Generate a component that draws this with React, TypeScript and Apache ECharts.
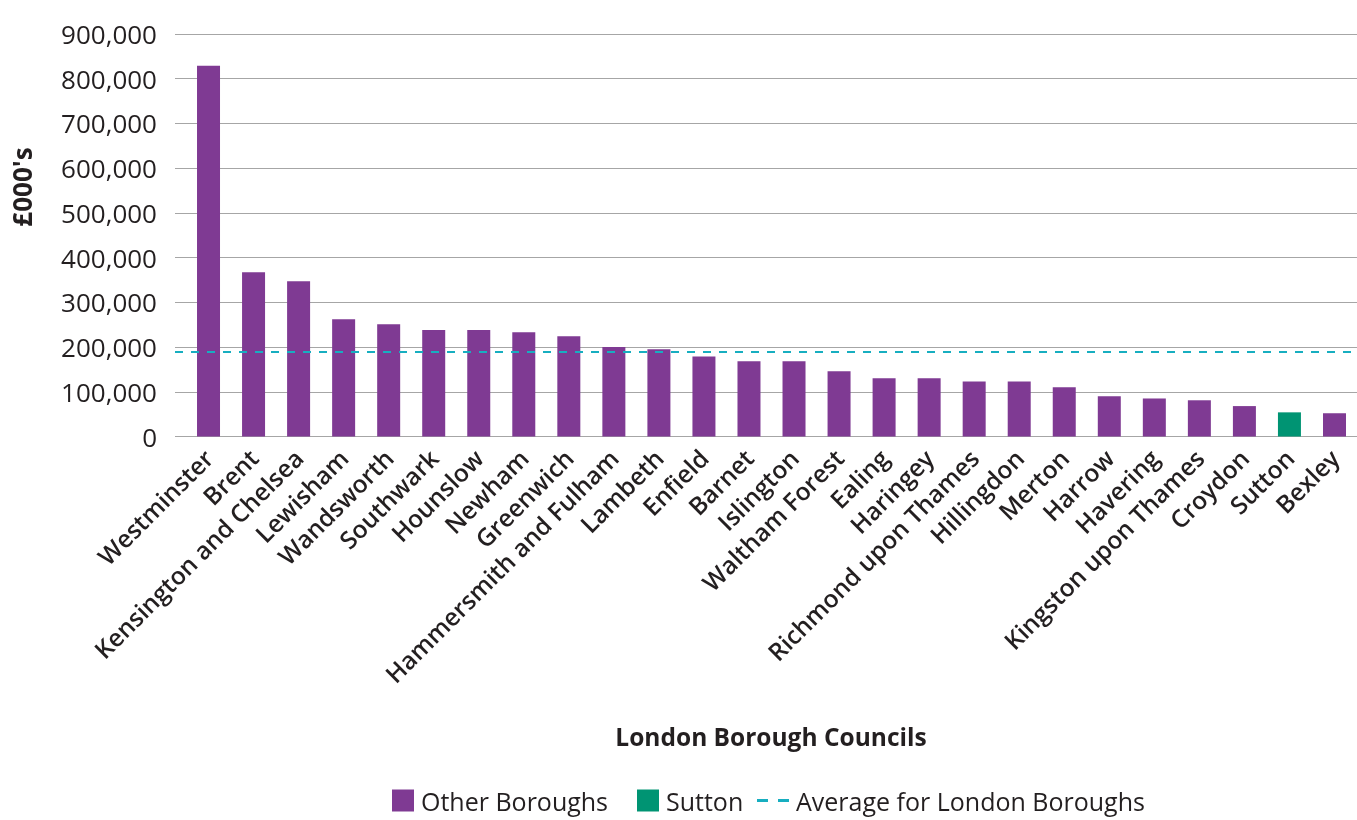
import React, { useEffect, useRef } from "react";
import * as echarts from "echarts";

const boroughs = [
  "Westminster", "Brent", "Kensington and Chelsea", "Lewisham", "Wandsworth",
  "Southwark", "Hounslow", "Newham", "Greenwich", "Hammersmith and Fulham",
  "Lambeth", "Enfield", "Barnet", "Islington", "Waltham Forest", "Ealing",
  "Haringey", "Richmond upon Thames", "Hillingdon", "Merton", "Harrow",
  "Havering", "Kingston upon Thames", "Croydon", "Sutton", "Bexley",
];
const values = [
  829000, 367000, 347000, 262000, 251000,
  238000, 238000, 233000, 224000, 200000,
  195000, 179000, 168000, 168000, 146000, 130000,
  130000, 123000, 123000, 110000, 90000,
  85000, 81000, 68000, 54000, 52000,
];
const highlight = "Sutton";
const averageValue = 189000;
const yTicks = [0, 100000, 200000, 300000, 400000, 500000, 600000, 700000, 800000, 900000];
const legendNames = ["Other Boroughs", "Sutton", "Average for London Boroughs"];

const PURPLE = "#7f3a93";
const GREEN = "#009473";
const TEAL = "#17aec0";
const TEXT = "#231f20";
const GRID = "#a6a6a6";
const FONT = "'Open Sans', Lato, sans-serif";

export default function App() {
  const ref = useRef<HTMLDivElement>(null);
  useEffect(() => {
    if (!ref.current) return;
    const chart = echarts.init(ref.current, null, { renderer: "svg" });
    const otherData = boroughs.map((b, i) => (b === highlight ? null : values[i]));
    const suttonData = boroughs.map((b, i) => (b === highlight ? values[i] : null));
    const yMax = yTicks[yTicks.length - 1];
    const step = yTicks[1] - yTicks[0];
    const legendBase = {
      top: 788,
      padding: 0,
      itemHeight: 22,
      textStyle: { fontSize: 25, color: TEXT, fontFamily: FONT, padding: [0, 0, 0, 2] },
    };
    chart.setOption({
      animation: false,
      textStyle: { fontFamily: FONT },
      grid: [
        { left: 175, right: 0, top: 34, bottom: 383.5 },
        { left: 186, right: -9, top: 34, bottom: 383.5 },
      ],
      xAxis: [
        { type: "value", gridIndex: 0, min: 0, max: 1, show: false },
        {
          type: "category",
          gridIndex: 1,
          data: boroughs,
          axisLine: { show: false },
          axisTick: { show: false },
          axisLabel: {
            interval: 0,
            rotate: 45,
            margin: 17,
            color: TEXT,
            fontSize: 24.5,
            fontWeight: 600,
            fontFamily: FONT,
          },
        },
      ],
      yAxis: [
        {
          type: "value",
          gridIndex: 0,
          min: 0,
          max: yMax,
          interval: step,
          axisLine: { show: false },
          axisTick: { show: false },
          axisLabel: {
            margin: 18,
            color: TEXT,
            fontSize: 26,
            fontFamily: FONT,
            formatter: (v: number) => v.toLocaleString("en-GB"),
          },
          splitLine: { lineStyle: { color: GRID, width: 1 } },
        },
        {
          type: "value",
          gridIndex: 1,
          min: 0,
          max: yMax,
          interval: step,
          show: false,
          splitLine: { show: false },
        },
      ],
      legend: [
        { ...legendBase, left: 392, itemWidth: 22, data: [{ name: legendNames[0], icon: "rect" }] },
        { ...legendBase, left: 637, itemWidth: 22, data: [{ name: legendNames[1], icon: "rect" }] },
        {
          ...legendBase,
          left: 757,
          itemWidth: 32,
          data: [
            {
              name: legendNames[2],
              icon: "path://M0,0L11,0L11,3L0,3Z M21,0L32,0L32,3L21,3Z",
              itemStyle: { color: TEAL },
            },
          ],
        },
      ],
      series: [
        {
          name: legendNames[0],
          type: "bar",
          xAxisIndex: 1,
          yAxisIndex: 1,
          data: otherData,
          barWidth: 23,
          barGap: "-100%",
          itemStyle: { color: PURPLE },
        },
        {
          name: legendNames[1],
          type: "bar",
          xAxisIndex: 1,
          yAxisIndex: 1,
          data: suttonData,
          barWidth: 23,
          barGap: "-100%",
          itemStyle: { color: GREEN },
        },
        {
          name: legendNames[2],
          type: "line",
          xAxisIndex: 0,
          yAxisIndex: 0,
          data: [[0, averageValue], [1, averageValue]],
          symbol: "none",
          z: 5,
          lineStyle: { color: TEAL, width: 2, type: [8, 8] },
          itemStyle: { color: TEAL },
        },
      ],
      graphic: [
        {
          type: "text",
          x: 22,
          y: 187,
          rotation: Math.PI / 2,
          style: {
            text: "£000's",
            fontSize: 26,
            fontWeight: 700,
            fontFamily: FONT,
            fill: TEXT,
            align: "center",
            verticalAlign: "middle",
          },
        },
        {
          type: "text",
          x: 771,
          y: 736,
          style: {
            text: "London Borough Councils",
            fontSize: 24.5,
            fontWeight: 700,
            fontFamily: FONT,
            fill: TEXT,
            align: "center",
            verticalAlign: "middle",
          },
        },
      ],
    });
    return () => chart.dispose();
  }, []);
  return (
    <div
      ref={ref}
      style={{ position: "fixed", left: 0, top: 0, width: 1357, height: 820 }}
    />
  );
}
